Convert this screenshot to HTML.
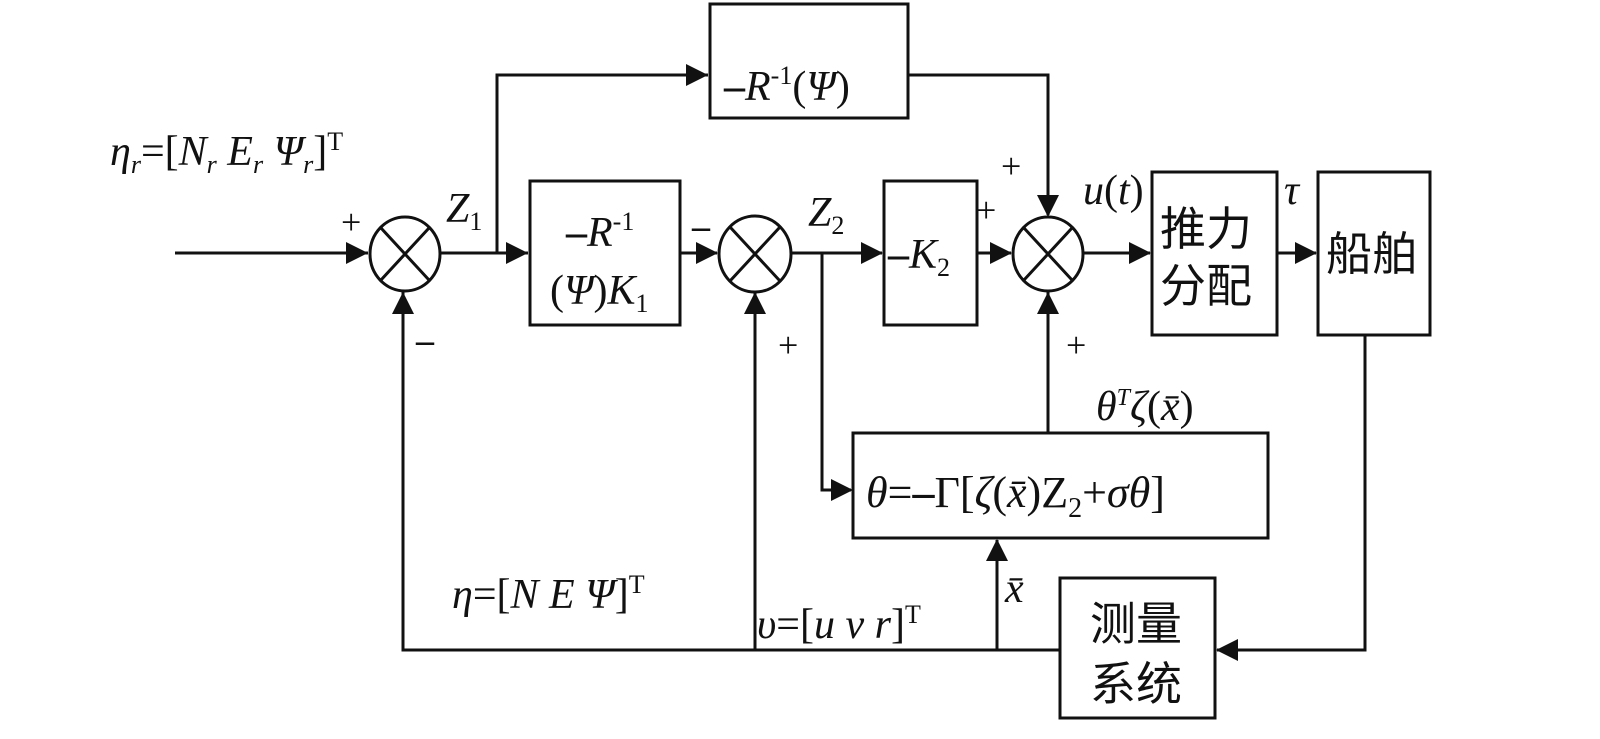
<!DOCTYPE html>
<html><head><meta charset="utf-8"><style>
html,body{margin:0;padding:0;background:#fff;}
svg{display:block;}
text{font-family:"Liberation Serif","Noto Serif CJK SC",serif;fill:#111;}
.m{font-style:italic;}
.c{font-family:"Liberation Sans","Noto Sans CJK SC",sans-serif;}
</style></head><body>
<svg width="1600" height="739" viewBox="0 0 1600 739" xmlns="http://www.w3.org/2000/svg">
<g stroke="#111" stroke-width="3" fill="none">
<rect x="710" y="4" width="198" height="114"/>
<rect x="530" y="181" width="150" height="144"/>
<rect x="884" y="181" width="93" height="144"/>
<rect x="1152" y="172" width="125" height="163"/>
<rect x="1318" y="172" width="112" height="163"/>
<rect x="853" y="433" width="415" height="105"/>
<rect x="1060" y="578" width="155" height="140"/>
<ellipse cx="405" cy="254" rx="35" ry="37"/><path d="M381,228 L429,280 M429,228 L381,280"/>
<ellipse cx="755" cy="254" rx="36" ry="38"/><path d="M730,227 L780,281 M780,227 L730,281"/>
<ellipse cx="1048" cy="254" rx="35" ry="37"/><path d="M1024,228 L1072,280 M1072,228 L1024,280"/>
<path d="M175,253 H368"/>
<path d="M440,253 H528"/>
<path d="M497,253 V75 H708"/>
<path d="M908,75 H1048 V215"/>
<path d="M680,253 H717"/>
<path d="M791,253 H882"/>
<path d="M822,253 V490 H851"/>
<path d="M977,253 H1011"/>
<path d="M1083,253 H1150"/>
<path d="M1277,253 H1316"/>
<path d="M1365,335 V650 H1217"/>
<path d="M1060,650 H403 V292"/>
<path d="M755,650 V293"/>
<path d="M997,650 V540"/>
<path d="M1048,433 V292"/>
</g>
<g fill="#111">
<path d="M368,253 l-22,-11 v22z"/>
<path d="M528,253 l-22,-11 v22z"/>
<path d="M708,75 l-22,-11 v22z"/>
<path d="M1048,217 l-11,-22 h22z"/>
<path d="M718,253 l-22,-11 v22z"/>
<path d="M883,253 l-22,-11 v22z"/>
<path d="M853,490 l-22,-11 v22z"/>
<path d="M1012,253 l-22,-11 v22z"/>
<path d="M1151,253 l-22,-11 v22z"/>
<path d="M1317,253 l-22,-11 v22z"/>
<path d="M1216,650 l22,-11 v22z"/>
<path d="M403,292 l-11,22 h22z"/>
<path d="M755,292 l-11,22 h22z"/>
<path d="M997,539 l-11,22 h22z"/>
<path d="M1048,292 l-11,22 h22z"/>
</g>
<text x="724" y="100" font-size="42"><tspan font-weight="bold">–</tspan><tspan class="m">R</tspan><tspan font-size="26" dy="-16">-1</tspan><tspan dy="16">(</tspan><tspan class="m">Ψ</tspan>)</text>
<text x="566" y="246" font-size="42"><tspan font-weight="bold">–</tspan><tspan class="m">R</tspan><tspan font-size="26" dy="-16">-1</tspan></text>
<text x="550" y="304" font-size="42">(<tspan class="m">Ψ</tspan>)<tspan class="m">K</tspan><tspan font-size="26" dy="8">1</tspan></text>
<text x="888" y="268" font-size="42"><tspan font-weight="bold">–</tspan><tspan class="m">K</tspan><tspan font-size="26" dy="8">2</tspan></text>
<text x="1160" y="245" font-size="46" class="c">推力</text>
<text x="1160" y="302" font-size="46" class="c">分配</text>
<text x="1326" y="270" font-size="46" class="c">船舶</text>
<text x="1090" y="640" font-size="46" class="c">测量</text>
<text x="1090" y="700" font-size="46" class="c">系统</text>
<text x="866" y="507" font-size="44"><tspan class="m">θ</tspan>=<tspan font-weight="bold">–</tspan>Γ[<tspan class="m">ζ</tspan>(<tspan class="m">x̄</tspan>)Z<tspan font-size="28" dy="10">2</tspan><tspan dy="-10">+</tspan><tspan class="m">σθ</tspan>]</text>
<text x="1096" y="420" font-size="42"><tspan class="m">θ</tspan><tspan class="m" font-size="24" dy="-15">T</tspan><tspan class="m" dy="15">ζ</tspan>(<tspan class="m">x̄</tspan>)</text>
<text x="110" y="165" font-size="42"><tspan class="m">η</tspan><tspan class="m" font-size="26" dy="8">r</tspan><tspan dy="-8">=[</tspan><tspan class="m">N</tspan><tspan class="m" font-size="26" dy="8">r</tspan><tspan class="m" dy="-8"> E</tspan><tspan class="m" font-size="26" dy="8">r</tspan><tspan class="m" dy="-8"> Ψ</tspan><tspan class="m" font-size="26" dy="8">r</tspan><tspan dy="-8">]</tspan><tspan font-size="26" dy="-15">T</tspan></text>
<text x="452" y="608" font-size="42"><tspan class="m">η</tspan>=[<tspan class="m">N E Ψ</tspan>]<tspan font-size="26" dy="-15">T</tspan></text>
<text x="757" y="638" font-size="42"><tspan class="m">υ</tspan>=[<tspan class="m">u v r</tspan>]<tspan font-size="26" dy="-15">T</tspan></text>
<text x="1005" y="602" font-size="42" class="m">x̄</text>
<text x="446" y="222" font-size="42" class="m">Z<tspan font-size="26" dy="8" font-style="normal">1</tspan></text>
<text x="808" y="226" font-size="42" class="m">Z<tspan font-size="26" dy="8" font-style="normal">2</tspan></text>
<text x="1083" y="204" font-size="42"><tspan class="m">u</tspan>(<tspan class="m">t</tspan>)</text>
<text x="1284" y="204" font-size="42" class="m">τ</text>
<text x="341" y="234" font-size="36">+</text>
<text x="416" y="352" font-size="36" font-weight="bold">–</text>
<text x="692" y="238" font-size="36" font-weight="bold">–</text>
<text x="778" y="357" font-size="36">+</text>
<text x="976" y="222" font-size="36">+</text>
<text x="1001" y="178" font-size="36">+</text>
<text x="1066" y="357" font-size="36">+</text>
</svg>
</body></html>
